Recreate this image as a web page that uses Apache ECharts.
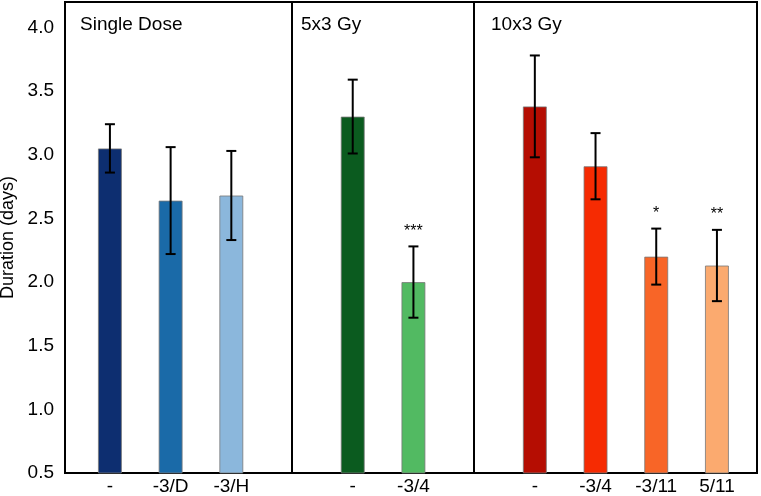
<!DOCTYPE html>
<html>
<head>
<meta charset="utf-8">
<script src="https://cdn.jsdelivr.net/npm/echarts@6/dist/echarts.min.js"></script>
<style>html,body{margin:0;padding:0;background:#fff;}#c{width:761px;height:496px;}</style>
</head>
<body>
<div id="c"></div>
<script>
// ---- data ----
const groups = ['Single Dose', '5x3 Gy', '10x3 Gy'];
const categories = ['-', '-3/D', '-3/H', '-', '-3/4', '-', '-3/4', '-3/11', '5/11'];
const groupOf = [0, 0, 0, 1, 1, 2, 2, 2, 2];
const means = [3.05, 2.64, 2.68, 3.30, 2.00, 3.38, 2.91, 2.20, 2.13];
const errors = [0.19, 0.42, 0.35, 0.29, 0.28, 0.40, 0.26, 0.22, 0.28];
const sig = ['', '', '', '', '***', '', '', '*', '**'];
const colors = ['#0d2e70', '#1a6aa8', '#8bb7dc', '#0b5b1f', '#52ba62', '#b50d02', '#f62b02', '#f86527', '#fbaa6f'];
const yTicks = [0.5, 1.0, 1.5, 2.0, 2.5, 3.0, 3.5, 4.0];

// slot positions: one empty slot between groups (where the divider sits)
const slots = categories.map((c, i) => i + groupOf[i]);
const dividers = [];
for (let i = 1; i < categories.length; i++) {
  if (groupOf[i] !== groupOf[i - 1]) dividers.push(slots[i] - 1);
}
const slotLabel = {};
slots.forEach((s, i) => { slotLabel[s] = categories[i]; });

const FONT = 'Liberation Sans, Arial, Helvetica, sans-serif';
const FS = 19;
const chart = echarts.init(document.getElementById('c'), null, { renderer: 'canvas' });

const titleLefts = [75, 296, 486];

chart.setOption({
  animation: false,
  backgroundColor: '#fff',
  textStyle: { fontFamily: FONT },
  title: groups.map((g, k) => ({
    text: g, left: titleLefts[k], top: 10,
    textStyle: { fontFamily: FONT, fontSize: FS, fontWeight: 'normal', color: '#000' }
  })),
  grid: {
    left: 65, right: 4, top: 2, bottom: 23,
    outerBoundsMode: 'none', containLabel: false,
    show: true, borderColor: '#000', borderWidth: 2, backgroundColor: 'transparent'
  },
  xAxis: {
    type: 'value', min: -0.74, max: 10.66,
    axisLine: { show: false }, axisTick: { show: false }, splitLine: { show: false },
    axisLabel: {
      customValues: slots,
      formatter: v => slotLabel[v] !== undefined ? slotLabel[v] : '',
      fontFamily: FONT, fontSize: FS, color: '#000', margin: 4
    }
  },
  yAxis: {
    type: 'value', min: 0.5, max: 4.2, interval: 0.5,
    name: 'Duration (days)', nameLocation: 'middle', nameGap: 43,
    nameTextStyle: { fontFamily: FONT, fontSize: 18, color: '#000' },
    axisLine: { show: false }, axisTick: { show: false }, splitLine: { show: false },
    axisLabel: {
      customValues: yTicks,
      formatter: v => v.toFixed(1),
      fontFamily: FONT, fontSize: FS, color: '#000', margin: 11
    }
  },
  series: [
    {
      type: 'bar', barWidth: 24, clip: true,
      data: slots.map((s, i) => ({
        value: [s, means[i]],
        itemStyle: { color: colors[i], borderColor: 'rgba(120,120,120,0.8)', borderWidth: 1 }
      })),
      markLine: {
        silent: true, symbol: 'none', label: { show: false },
        lineStyle: { color: '#000', width: 2, type: 'solid' },
        data: dividers.map(d => ({ xAxis: d }))
      }
    },
    {
      type: 'custom',
      data: slots.map((s, i) => [s, means[i] - errors[i], means[i] + errors[i], i]),
      renderItem: function (params, api) {
        const x = api.value(0), lo = api.value(1), hi = api.value(2), idx = api.value(3);
        const top = api.coord([x, hi]);
        const bot = api.coord([x, lo]);
        const cap = 5;
        const ls = { stroke: '#000', lineWidth: 2 };
        const children = [
          { type: 'line', shape: { x1: top[0], y1: top[1], x2: bot[0], y2: bot[1] }, style: ls },
          { type: 'line', shape: { x1: top[0] - cap, y1: top[1], x2: top[0] + cap, y2: top[1] }, style: ls },
          { type: 'line', shape: { x1: bot[0] - cap, y1: bot[1], x2: bot[0] + cap, y2: bot[1] }, style: ls }
        ];
        if (sig[idx]) {
          children.push({
            type: 'text',
            style: {
              text: sig[idx], x: top[0], y: top[1] - 7,
              align: 'center', verticalAlign: 'bottom',
              fontFamily: FONT, fontSize: 16, fill: '#000'
            }
          });
        }
        return { type: 'group', children: children };
      },
      z: 5
    }
  ]
});
</script>
</body>
</html>
